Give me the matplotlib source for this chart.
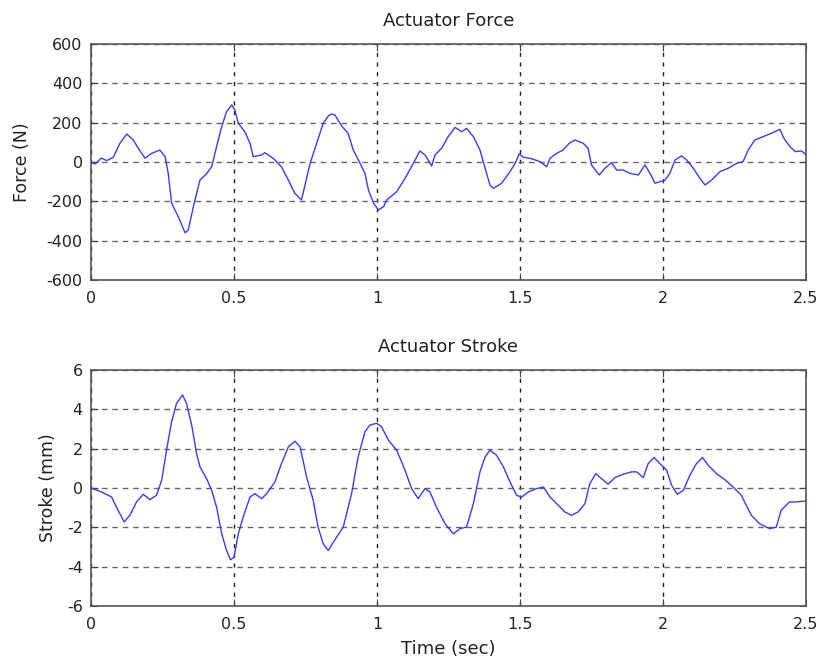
import matplotlib
matplotlib.use("Agg")
import matplotlib.pyplot as plt
import numpy as np

plt.rcParams['font.family'] = ['DejaVu Sans']
plt.rcParams['axes.unicode_minus'] = False

# Actuator force (N) vs time (sec)
force_t = [0.000, 0.014, 0.037, 0.055, 0.078, 0.101, 0.125, 0.148, 0.165, 0.189,
           0.212, 0.241, 0.259, 0.270, 0.282, 0.305, 0.329, 0.340, 0.358, 0.381,
           0.405, 0.422, 0.439, 0.457, 0.474, 0.492, 0.503, 0.515, 0.538, 0.556,
           0.567, 0.597, 0.608, 0.637, 0.666, 0.690, 0.713, 0.736, 0.766, 0.789,
           0.812, 0.830, 0.841, 0.853, 0.876, 0.899, 0.917, 0.941, 0.958, 0.970,
           0.988, 1.005, 1.023, 1.034, 1.069, 1.098, 1.127, 1.150, 1.168, 1.191,
           1.203, 1.226, 1.249, 1.273, 1.296, 1.313, 1.337, 1.360, 1.378, 1.395,
           1.407, 1.436, 1.465, 1.483, 1.497, 1.512, 1.535, 1.570, 1.593, 1.605,
           1.628, 1.651, 1.672, 1.692, 1.721, 1.738, 1.750, 1.777, 1.797, 1.820,
           1.838, 1.861, 1.885, 1.914, 1.937, 1.955, 1.972, 1.990, 2.007, 2.024,
           2.042, 2.065, 2.083, 2.106, 2.129, 2.147, 2.170, 2.199, 2.228, 2.257,
           2.280, 2.298, 2.321, 2.350, 2.379, 2.409, 2.423, 2.444, 2.462, 2.485,
           2.500]
force_v = [-3, -10, 20, 7, 24, 95, 142, 112, 70, 19,
           44, 61, 27, -58, -210, -278, -360, -346, -227, -92,
           -58, -24, 78, 180, 256, 290, 265, 197, 154, 95,
           27, 36, 47, 19, -24, -92, -160, -193, -7, 95,
           197, 235, 244, 239, 183, 146, 61, -7, -58, -142,
           -210, -244, -227, -193, -151, -83, -7, 56, 36, -20,
           36, 70, 129, 176, 154, 171, 129, 61, -32, -117,
           -134, -108, -49, -7, 41, 24, 19, 2, -24, 19,
           44, 61, 95, 112, 95, 70, -15, -66, -32, -3,
           -41, -41, -58, -66, -15, -58, -108, -100, -92, -58,
           10, 31, 10, -32, -83, -117, -92, -49, -32, -7,
           2, 61, 112, 129, 146, 166, 120, 78, 53, 56,
           36]

# Actuator stroke (mm) vs time (sec)
stroke_t = [0.000, 0.037, 0.072, 0.089, 0.116, 0.136, 0.159, 0.183, 0.206, 0.229,
            0.247, 0.266, 0.282, 0.299, 0.320, 0.334, 0.352, 0.369, 0.381, 0.404,
            0.422, 0.439, 0.457, 0.474, 0.488, 0.500, 0.515, 0.532, 0.556, 0.573,
            0.597, 0.614, 0.643, 0.666, 0.690, 0.713, 0.731, 0.754, 0.777, 0.794,
            0.812, 0.830, 0.847, 0.882, 0.911, 0.934, 0.958, 0.975, 0.999, 1.016,
            1.040, 1.069, 1.098, 1.121, 1.144, 1.168, 1.185, 1.208, 1.238, 1.267,
            1.290, 1.313, 1.337, 1.360, 1.378, 1.395, 1.418, 1.442, 1.465, 1.488,
            1.506, 1.529, 1.558, 1.582, 1.605, 1.640, 1.657, 1.680, 1.703, 1.727,
            1.744, 1.765, 1.785, 1.808, 1.832, 1.861, 1.890, 1.908, 1.931, 1.948,
            1.969, 1.989, 2.013, 2.030, 2.050, 2.071, 2.094, 2.117, 2.138, 2.158,
            2.187, 2.216, 2.245, 2.274, 2.291, 2.309, 2.338, 2.373, 2.396, 2.413,
            2.442, 2.465, 2.500]
stroke_v = [0.00, -0.20, -0.46, -0.97, -1.73, -1.39, -0.71, -0.32, -0.59, -0.37,
            0.39, 2.09, 3.37, 4.30, 4.73, 4.30, 3.20, 1.76, 1.07, 0.48,
            -0.12, -0.97, -2.33, -3.18, -3.65, -3.52, -2.33, -1.48, -0.46, -0.29,
            -0.54, -0.29, 0.31, 1.24, 2.09, 2.38, 2.09, 0.56, -0.63, -1.99,
            -2.84, -3.18, -2.76, -1.99, -0.29, 1.58, 2.86, 3.20, 3.29, 3.11,
            2.43, 1.92, 0.90, -0.03, -0.54, -0.03, -0.20, -0.97, -1.82, -2.33,
            -2.07, -1.99, -0.80, 0.82, 1.58, 1.92, 1.67, 1.07, 0.31, -0.37,
            -0.46, -0.20, -0.03, 0.05, -0.46, -0.97, -1.22, -1.39, -1.22, -0.80,
            0.22, 0.73, 0.48, 0.19, 0.53, 0.70, 0.82, 0.82, 0.53, 1.24,
            1.55, 1.24, 0.90, 0.14, -0.32, -0.12, 0.65, 1.24, 1.55, 1.16,
            0.73, 0.43, 0.05, -0.37, -0.88, -1.39, -1.82, -2.07, -1.99, -1.14,
            -0.71, -0.71, -0.66]

x_ticks = [0, 0.5, 1, 1.5, 2, 2.5]
x_ticklabels = ['0', '0.5', '1', '1.5', '2', '2.5']
force_ticks = [-600, -400, -200, 0, 200, 400, 600]
stroke_ticks = [-6, -4, -2, 0, 2, 4, 6]

W, H = 823, 668
fig = plt.figure(figsize=(W / 100, H / 100), dpi=100)
ax1 = fig.add_axes([91 / W, 1 - 280 / H, 715 / W, 236 / H])
ax2 = fig.add_axes([91 / W, 1 - 606 / H, 715 / W, 236 / H])

txt_col = '#222222'
line_col = '#3a3aff'

def style(ax, yticks, ylim):
    ax.set_xlim(0, 2.5)
    ax.set_ylim(*ylim)
    ax.set_xticks(x_ticks)
    ax.set_xticklabels(x_ticklabels)
    ax.set_yticks(yticks)
    ax.tick_params(direction='in', length=5, width=0.8, colors='#444444',
                   labelcolor=txt_col, labelsize=11.5, top=True, right=True)
    ax.tick_params(axis='x', pad=8)
    ax.tick_params(axis='y', pad=6)
    for s in ax.spines.values():
        s.set_color('#555555')
        s.set_linewidth(1.2)
    ax.yaxis.grid(True, color='#666666', linestyle=(0, (4, 3.5)), linewidth=1.0)
    ax.xaxis.grid(True, color='#222222', linestyle=(0, (3, 4)), linewidth=1.0)
    ax.set_axisbelow(True)

ax1.plot(force_t, force_v, color=line_col, linewidth=1.0)
style(ax1, force_ticks, (-600, 600))
ax1.set_title('Actuator Force', fontsize=13, color=txt_col, pad=13)
ax1.set_ylabel('Force (N)', fontsize=12.5, color=txt_col, labelpad=11)

ax2.plot(stroke_t, stroke_v, color=line_col, linewidth=1.0)
style(ax2, stroke_ticks, (-6, 6))
ax2.set_title('Actuator Stroke', fontsize=13, color=txt_col, pad=13)
ax2.set_ylabel('Stroke (mm)', fontsize=12.5, color=txt_col, labelpad=7)
ax2.set_xlabel('Time (sec)', fontsize=13, color=txt_col, labelpad=6)

fig.savefig('out.png', dpi=100)
